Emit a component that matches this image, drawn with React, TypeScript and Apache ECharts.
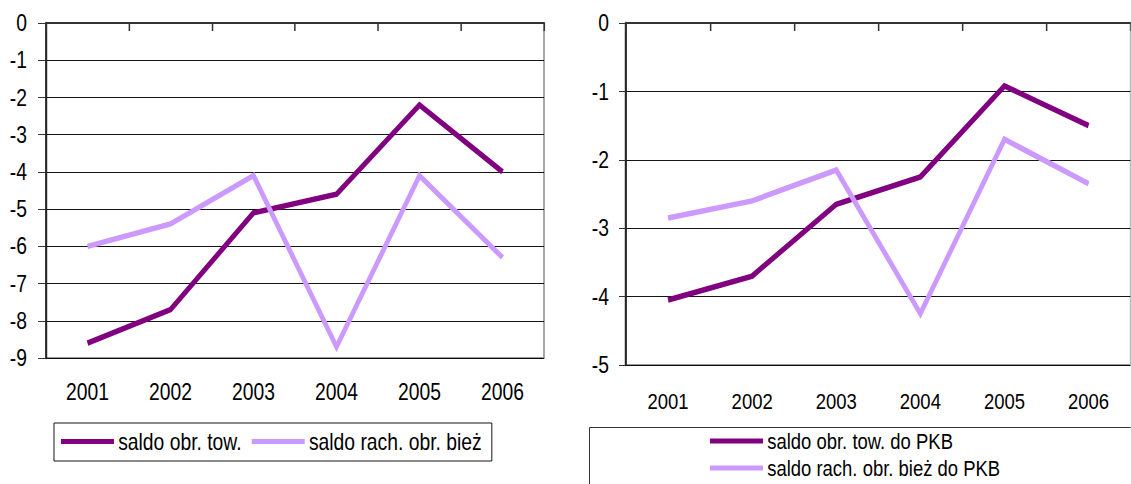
import React, { useEffect, useRef } from "react";
import * as echarts from "echarts";

const categories = ["2001", "2002", "2003", "2004", "2005", "2006"];
const towLeft = [-8.6, -7.7, -5.1, -4.6, -2.2, -4.0];
const rachLeft = [-6.0, -5.4, -4.1, -8.7, -4.1, -6.3];
const towRight = [-4.05, -3.7, -2.65, -2.25, -0.92, -1.5];
const rachRight = [-2.85, -2.6, -2.15, -4.25, -1.7, -2.35];
const leftNames = ["saldo obr. tow.", "saldo rach. obr. bież"];
const rightNames = ["saldo obr. tow. do PKB", "saldo rach. obr. bież do PKB"];

const DARK = "#800080";
const LIGHT = "#CC99FF";
const FONT = "'Liberation Sans', Arial, sans-serif";
// the reference is horizontally compressed; draw in a wider space and squeeze
const SX = 0.84;
const W = 1131 / SX;
const H = 484;
const px = (v: number) => v / SX;

export default function App() {
  const ref = useRef<HTMLDivElement>(null);
  useEffect(() => {
    if (!ref.current) return;
    const chart = echarts.init(ref.current, undefined, { renderer: "svg" });
    const grids = [
      { left: px(46), top: 23, width: px(498), height: 335 },
      { left: px(626), top: 23, width: px(510), height: 342 },
    ];
    const xAxes: any[] = [];
    const yAxes: any[] = [];
    grids.forEach((g, i) => {
      xAxes.push({
        type: "category",
        gridIndex: i,
        data: categories,
        position: "bottom",
        boundaryGap: true,
        axisLine: { show: true, lineStyle: { color: "#999", width: 2 } },
        axisTick: { show: false },
        axisLabel: { fontSize: i === 0 ? 23 : 22, color: "#000", fontFamily: FONT, margin: i === 0 ? 22.5 : 25.5 },
        splitLine: { show: false },
      });
      xAxes.push({
        type: "category",
        gridIndex: i,
        data: categories,
        position: "top",
        boundaryGap: true,
        axisLine: { show: true, lineStyle: { color: "#333", width: 2 } },
        axisTick: { show: true, inside: true, length: 8, lineStyle: { color: "#333", width: 1.8 } },
        axisLabel: { show: false },
        splitLine: { show: false },
      });
      yAxes.push({
        type: "value",
        gridIndex: i,
        min: i === 0 ? -9 : -5,
        max: 0,
        interval: 1,
        axisLine: { show: true, lineStyle: { color: "#222", width: 2.4 } },
        axisTick: { show: true, length: i === 0 ? px(8) : px(7), lineStyle: { color: "#222", width: 1 } },
        axisLabel: { fontSize: 23, color: "#000", fontFamily: FONT, margin: i === 0 ? px(19) : px(17) },
        splitLine: { show: true, lineStyle: { color: "#000", width: 1 } },
      });
    });
    const mkSeries = (name: string, data: number[], color: string, xi: number, yi: number) => ({
      name,
      type: "line",
      data,
      xAxisIndex: xi,
      yAxisIndex: yi,
      symbol: "none",
      showSymbol: false,
      color,
      lineStyle: { color, width: 5.5, join: "miter", cap: "butt" },
    });
    chart.setOption({
      animation: false,
      grid: grids.map((g) => ({
        ...g,
        show: true,
        borderColor: "#999",
        borderWidth: 2,
        backgroundColor: "transparent",
        containLabel: false,
      })),
      xAxis: xAxes,
      yAxis: yAxes,
      legend: [
        {
          data: leftNames,
          left: px(54),
          top: 423,
          orient: "horizontal",
          icon: "rect",
          itemWidth: px(53),
          itemHeight: 5,
          itemGap: px(10),
          padding: [7, px(10), 8, px(7)],
          borderColor: "#000",
          borderWidth: 1,
          selectedMode: false,
          textStyle: { fontSize: 23, color: "#000", fontFamily: FONT },
        },
        {
          data: rightNames,
          left: px(710),
          top: 430,
          orient: "vertical",
          icon: "rect",
          itemWidth: px(53),
          itemHeight: 5,
          itemGap: 5,
          padding: 0,
          selectedMode: false,
          textStyle: { fontSize: 22, color: "#000", fontFamily: FONT },
        },
      ],
      graphic: [
        {
          type: "rect",
          shape: { x: px(589.5), y: 427.5, width: 900, height: 100 },
          style: { fill: "none", stroke: "#222", lineWidth: 1 },
        },
      ],
      series: [
        mkSeries(leftNames[0], towLeft, DARK, 0, 0),
        mkSeries(leftNames[1], rachLeft, LIGHT, 0, 0),
        mkSeries(rightNames[0], towRight, DARK, 2, 1),
        mkSeries(rightNames[1], rachRight, LIGHT, 2, 1),
      ],
    });
    return () => chart.dispose();
  }, []);
  return (
    <div
      style={{
        position: "fixed",
        left: 0,
        top: 0,
        width: 1131,
        height: H,
        overflow: "hidden",
        background: "#fff",
      }}
    >
      <div
        ref={ref}
        style={{
          width: W,
          height: H,
          transform: `scaleX(${SX})`,
          transformOrigin: "0 0",
        }}
      />
    </div>
  );
}
